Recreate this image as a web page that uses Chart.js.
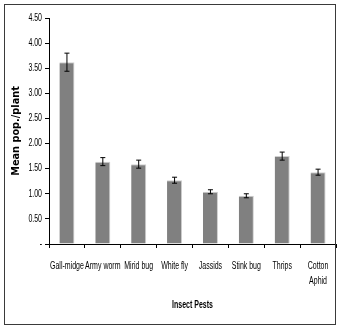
<!DOCTYPE html>
<html>
<head>
<meta charset="utf-8">
<script src="https://cdn.jsdelivr.net/npm/chart.js@4"></script>
<style>
  html, body { margin: 0; padding: 0; background: #fff; }
  #wrap { position: relative; width: 341px; height: 328px; }
  #frame { position: absolute; left: 4px; top: 4px; width: 330px; height: 319px; border: 1.5px solid #3a3a3a; pointer-events: none; }
</style>
</head>
<body>
<div id="wrap">
  <canvas id="barChart" width="341" height="328"></canvas>
  <div id="frame"></div>
</div>
<script>
// insect pest means and error bars
const pests = ['Gall-midge', 'Army worm', 'Mirid bug', 'White fly', 'Jassids', 'Stink bug', 'Thrips', ['Cotton', 'Aphid']];
const meanPop = [3.62, 1.64, 1.59, 1.27, 1.04, 0.96, 1.75, 1.43];
const stdErr = [0.18, 0.08, 0.08, 0.06, 0.04, 0.04, 0.08, 0.06];
const xTitle = 'Insect Pests';
const yTitle = 'Mean pop./plant';

// the original text is a narrow (squeezed) sans, so labels are drawn with a horizontal squeeze
const squeeze = 0.7;
const sans = '"Liberation Sans", Arial, sans-serif';

function squeezedText(ctx, text, x, y, align, font) {
  ctx.save();
  ctx.font = font;
  ctx.fillStyle = '#000';
  ctx.textAlign = align;
  ctx.textBaseline = 'middle';
  ctx.translate(x, y);
  ctx.scale(squeeze, 1);
  ctx.fillText(text, 0, 0);
  ctx.restore();
}

const errorBars = {
  id: 'errorBars',
  afterDatasetsDraw(chart) {
    const ctx = chart.ctx;
    const y = chart.scales.y;
    const meta = chart.getDatasetMeta(0);
    ctx.save();
    ctx.strokeStyle = '#000';
    ctx.lineWidth = 1;
    meta.data.forEach((bar, i) => {
      const top = y.getPixelForValue(meanPop[i] + stdErr[i]);
      const bot = y.getPixelForValue(meanPop[i] - stdErr[i]);
      ctx.beginPath();
      ctx.moveTo(bar.x, top);
      ctx.lineTo(bar.x, bot);
      ctx.moveTo(bar.x - 2.5, top);
      ctx.lineTo(bar.x + 2.5, top);
      ctx.moveTo(bar.x - 2.5, bot);
      ctx.lineTo(bar.x + 2.5, bot);
      ctx.stroke();
    });
    ctx.restore();
  }
};

const axisText = {
  id: 'axisText',
  afterDraw(chart) {
    const ctx = chart.ctx;
    const x = chart.scales.x;
    const y = chart.scales.y;
    const area = chart.chartArea;
    pests.forEach((label, i) => {
      const lines = Array.isArray(label) ? label : [label];
      const px = x.getPixelForTick(i);
      lines.forEach((line, k) => {
        squeezedText(ctx, line, px, area.bottom + 22 + k * 15, 'center', '10px ' + sans);
      });
    });
    y.ticks.forEach((tick, i) => {
      squeezedText(ctx, tick.label, area.left - 7, y.getPixelForTick(i), 'right', '10px ' + sans);
    });
    squeezedText(ctx, xTitle, (area.left + area.right) / 2, area.bottom + 61, 'center', 'bold 10px ' + sans);
  }
};

const ctx = document.getElementById('barChart').getContext('2d');
new Chart(ctx, {
  type: 'bar',
  data: {
    labels: pests,
    datasets: [{
      data: meanPop,
      backgroundColor: '#808080',
      borderColor: '#cfcfcf',
      borderWidth: { top: 1, right: 1, left: 0, bottom: 0 },
      categoryPercentage: 1,
      barPercentage: 0.42
    }]
  },
  options: {
    responsive: false,
    animation: false,
    layout: { padding: { left: 5, top: 18, right: 5, bottom: 14 } },
    plugins: {
      legend: { display: false },
      tooltip: { enabled: false }
    },
    scales: {
      x: {
        grid: { display: true, drawOnChartArea: false, offset: true, tickLength: 4, color: '#000' },
        border: { display: true, color: '#000' },
        ticks: { display: false },
        afterFit(scale) { scale.height = 70; }
      },
      y: {
        min: 0,
        max: 4.5,
        grid: { display: true, drawOnChartArea: false, tickLength: 4, color: '#000' },
        border: { display: true, color: '#000' },
        ticks: {
          display: false,
          stepSize: 0.5,
          callback: (v) => v === 0 ? '-' : v.toFixed(2)
        },
        title: {
          display: true,
          text: yTitle,
          color: '#000',
          font: { family: '"DejaVu Sans", Verdana, sans-serif', size: 9.75, weight: 'bold' },
          padding: { top: 6, bottom: 0 }
        },
        afterFit(scale) { scale.width = 44; }
      }
    }
  },
  plugins: [errorBars, axisText]
});
</script>
</body>
</html>
